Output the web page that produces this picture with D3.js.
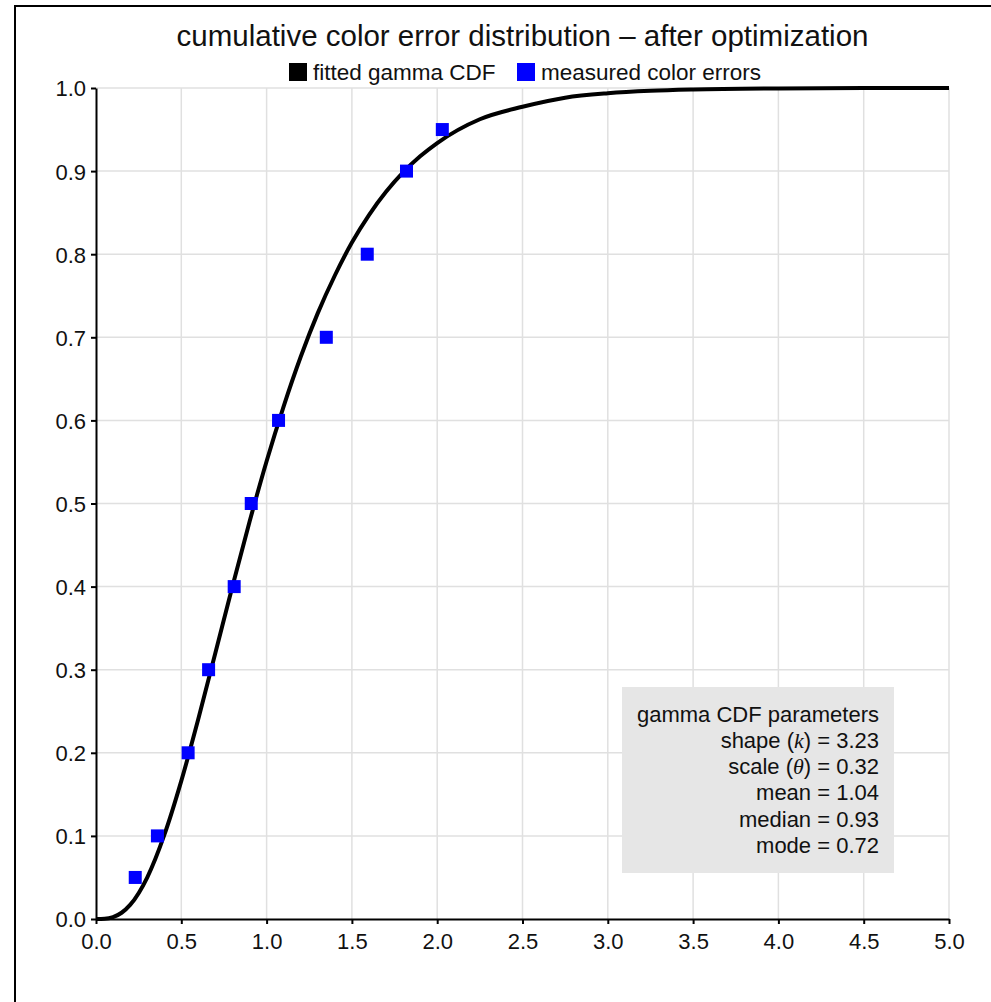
<!DOCTYPE html>
<html>
<head>
<meta charset="utf-8">
<script src="https://cdn.jsdelivr.net/npm/d3@7"></script>
<style>
  html, body { margin: 0; padding: 0; background: #fff; }
  svg { display: block; font-family: "Liberation Sans", Arial, Helvetica, sans-serif; }
</style>
</head>
<body>
<svg id="chart" width="991" height="1002"></svg>
<script>
// ---- data ----
const measuredX = [0.23, 0.36, 0.54, 0.66, 0.81, 0.91, 1.07, 1.35, 1.59, 1.82, 2.03];
const measuredY = [0.05, 0.10, 0.20, 0.30, 0.40, 0.50, 0.60, 0.70, 0.80, 0.90, 0.95];

const curveX = [0, 0.05, 0.1, 0.15, 0.2, 0.3, 0.4, 0.5, 0.6, 0.7, 0.8, 0.9, 1.0, 1.1, 1.2, 1.3, 1.4, 1.5, 1.6, 1.7, 1.8, 1.9, 2.0, 2.25, 2.5, 2.75, 3.0, 3.25, 3.5, 4.0, 4.5, 5.0];
const curveY = [0, 0.00027, 0.00228, 0.00752, 0.01696, 0.04993, 0.10090, 0.16618, 0.24101, 0.32054, 0.40055, 0.47800, 0.55088, 0.61700, 0.67662, 0.72911, 0.77437, 0.81402, 0.84713, 0.87506, 0.89843, 0.91776, 0.93372, 0.96238, 0.97741, 0.98835, 0.99366, 0.99660, 0.99819, 0.99950, 0.99987, 0.99997];

const xTicks = [0, 0.5, 1.0, 1.5, 2.0, 2.5, 3.0, 3.5, 4.0, 4.5, 5.0];
const yTicks = [0, 0.1, 0.2, 0.3, 0.4, 0.5, 0.6, 0.7, 0.8, 0.9, 1.0];

const titleText = "cumulative color error distribution \u2013 after optimization";
const legendLabels = ["fitted gamma CDF", "measured color errors"];
const legendColors = ["#000000", "#0000ff"];
const paramTitle = "gamma CDF parameters";
const paramLines = [
  {pre: "shape (", sym: "k", post: ") = 3.23"},
  {pre: "scale (", sym: "\u03b8", post: ") = 0.32"},
  {pre: "mean = 1.04", sym: "", post: ""},
  {pre: "median = 0.93", sym: "", post: ""},
  {pre: "mode = 0.72", sym: "", post: ""}
];

// ---- layout ----
const svg = d3.select("#chart");
const L = 96, R = 949, T = 88, B = 919;
const x = d3.scaleLinear().domain([0, 5]).range([L, R]);
const y = d3.scaleLinear().domain([0, 1]).range([B, T]);

// outer frame (extends beyond the visible area on right/bottom)
svg.append("rect").attr("x", 15).attr("y", 6).attr("width", 1100).attr("height", 1100)
  .attr("fill", "none").attr("stroke", "#000").attr("stroke-width", 2);

// grid
const grid = svg.append("g");
grid.selectAll("line.v").data(xTicks.filter(d => d > 0)).join("line")
  .attr("x1", d => x(d)).attr("x2", d => x(d)).attr("y1", T).attr("y2", B)
  .attr("stroke", "#e0e0e0").attr("stroke-width", 1.5);
grid.selectAll("line.h").data(yTicks.filter(d => d > 0)).join("line")
  .attr("x1", L).attr("x2", R).attr("y1", d => y(d)).attr("y2", d => y(d))
  .attr("stroke", "#e0e0e0").attr("stroke-width", 1.5);

// parameter box
const bx0 = 622, bx1 = 894, by0 = 687, by1 = 873;
svg.append("rect").attr("x", bx0).attr("y", by0).attr("width", bx1 - bx0).attr("height", by1 - by0)
  .attr("fill", "#e6e6e6");
const pText = svg.append("g").attr("font-size", 22).attr("fill", "#111").attr("text-anchor", "end");
pText.append("text").attr("x", 879).attr("y", 722).text(paramTitle);
paramLines.forEach((ln, i) => {
  const t = pText.append("text").attr("x", 879).attr("y", 748 + i * 26.2);
  t.append("tspan").text(ln.pre);
  if (ln.sym) {
    t.append("tspan").attr("font-family", "'Liberation Serif', 'DejaVu Serif', serif").attr("font-style", "italic").text(ln.sym);
    t.append("tspan").text(ln.post);
  }
});

// axes
const xAxis = d3.axisBottom(x).tickValues(xTicks).tickFormat(d3.format(".1f")).tickSize(5).tickSizeOuter(0);
const yAxis = d3.axisLeft(y).tickValues(yTicks).tickFormat(d3.format(".1f")).tickSize(5).tickSizeOuter(0);
const gx = svg.append("g").attr("transform", `translate(0,${B})`).call(xAxis);
const gy = svg.append("g").attr("transform", `translate(${L},0)`).call(yAxis);
[gx, gy].forEach(g => {
  g.select(".domain").attr("stroke", "#000").attr("stroke-width", 2);
  g.selectAll(".tick line").attr("stroke", "#000").attr("stroke-width", 2);
  g.selectAll(".tick text").attr("fill", "#111").attr("font-size", 22)
    .attr("font-family", "'Liberation Sans', Arial, sans-serif");
});
gx.selectAll(".tick text").attr("dy", null).attr("y", 30);
gy.selectAll(".tick text").attr("x", -10).attr("dy", "0.36em");

// curve
const curveData = curveX.map((d, i) => [d, curveY[i]]);
svg.append("path").datum(curveData)
  .attr("fill", "none").attr("stroke", "#000").attr("stroke-width", 4)
  .attr("d", d3.line().x(d => x(d[0])).y(d => y(d[1])).curve(d3.curveMonotoneX));

// measured points
const pts = measuredX.map((d, i) => [d, measuredY[i]]);
const s = 13;
svg.append("g").selectAll("rect").data(pts).join("rect")
  .attr("x", d => x(d[0]) - s / 2).attr("y", d => y(d[1]) - s / 2)
  .attr("width", s).attr("height", s).attr("fill", "#0000ff");

// title
svg.append("text").attr("x", (L + R) / 2).attr("y", 46).attr("text-anchor", "middle")
  .attr("font-size", 29.5).attr("fill", "#111").text(titleText);

// legend
const leg = svg.append("g");
const legX = [289, 517];
legendLabels.forEach((lab, i) => {
  leg.append("rect").attr("x", legX[i]).attr("y", 63).attr("width", 18).attr("height", 18).attr("fill", legendColors[i]);
  leg.append("text").attr("x", legX[i] + 24).attr("y", 80).attr("font-size", 22.5).attr("fill", "#111").text(lab);
});
</script>
</body>
</html>
